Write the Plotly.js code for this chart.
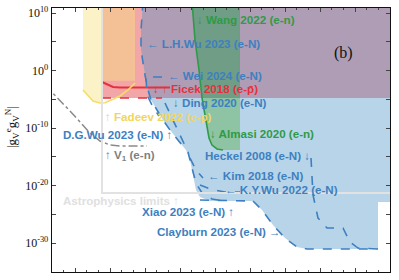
<!DOCTYPE html>
<html><head><meta charset="utf-8">
<script src="https://cdn.plot.ly/plotly-3.0.1.min.js"></script>
<style>html,body{margin:0;padding:0;background:#fff;}#chart{width:399px;height:280px;}</style>
</head><body><div id="chart"></div>
<script>
// x: log10 of force range (arbitrary decade units), y: log10 |g g|
const TOP = 12, RIGHT = 9.3;
const pinkX = [0.771, 0.771, RIGHT, RIGHT];
const pinkL = [TOP, -4.78, -4.78, TOP];
const blueX = [1.943, 1.886, 1.886, 1.943, 2.0, 2.086, 2.171, 2.343, 2.514, 2.714, 2.943, 3.171, 3.286, 3.343, 3.4, 3.457, 3.571, 3.857, 5.086, 5.343, 5.657, 6.0, 6.343, 6.629, 8.657, 8.657, RIGHT, RIGHT];
const blueL = [TOP, 7.04, 3.57, 0.96, -0.78, -3.39, -5.13, -6.87, -8.61, -10.35, -12.09, -13.83, -15.57, -17.30, -19.04, -20.78, -22.0, -22.70, -22.70, -24.27, -26.87, -29.13, -30.7, -31.04, -31.04, -22.87, -22.87, TOP];
const purpleX = [1.943, 1.886, 1.886, 1.943, 2.0, 2.086, 2.14, RIGHT, RIGHT];
const purpleL = [TOP, 7.04, 3.57, 0.96, -0.78, -3.39, -4.78, -4.78, TOP];
const yellowX = [0.229, 0.229, 0.371, 0.514, 0.714, 0.771, 0.771];
const yellowL = [TOP, -3.39, -4.43, -5.3, -5.65, -5.62, TOP];
const orangeX = [0.771, 0.771, 1.714, 1.714];
const orangeL = [TOP, -1.8, -1.8, TOP];
const greenUpX = [3.343, 3.429, 3.543, 3.629, 4.714, 4.714];
const greenUpL = [TOP, 5.30, 0.087, -4.78, -4.78, TOP];
const greenLoX = [3.629, 3.714, 3.771, 3.829, 3.914, 4.057, 4.229, 4.714, 4.714];
const greenLoL = [-4.78, -7.74, -10.0, -11.74, -12.96, -13.65, -13.83, -13.83, -4.78];
const wangX = [3.343, 3.429, 3.543, 3.629, 3.714, 3.771, 3.829, 3.914, 4.057, 4.229];
const wangL = [TOP, 5.30, 0.087, -4.78, -7.74, -10.0, -11.74, -12.96, -13.65, -13.83];
const ficekSolidX = [0.771, 0.886, 1.086, 1.286, 2.714];
const ficekSolidL = [-2.0, -2.35, -2.87, -2.96, -2.96];
const ficekDashX = [0.771, 2.486];
const ficekDashL = [-4.78, -4.78];
const fadeevX = [0.229, 0.371, 0.514, 0.714, 0.857, 1.086, 1.286, 1.514, 1.714];
const fadeevL = [-3.39, -4.43, -5.3, -5.65, -5.6, -5.0, -4.43, -3.39, -2.17];
const lhwuX = [1.943, 1.886, 1.886, 1.943, 2.0, 2.086, 2.171, 2.343, 2.514, 2.714, 2.943, 3.171];
const lhwuL = [TOP, 7.04, 3.57, 0.96, -0.78, -3.39, -5.13, -6.87, -8.61, -10.35, -12.09, -13.83];
const weiX = [2.486, 2.029, 2.057, 2.229, 2.4];
const weiL = [-1.13, -1.13, -4.26, -6.35, -7.9];
const dgwuX = [2.571, 2.771, 3.0, 3.229, 3.343, 3.457, 3.629, 3.914, 4.286];
const dgwuL = [-5.65, -8.26, -11.22, -14.17, -16.96, -19.57, -21.30, -22.35, -22.70];
const kimX = [3.286, 3.457, 3.657];
const kimL = [-15.22, -17.30, -18.70];
const kywuX = [3.571, 3.857, 4.286, 4.714];
const kywuL = [-19.91, -20.61, -21.13, -21.13];
const xiaoX = [3.571, 5.086];
const xiaoL = [-22.52, -22.70];
const claybX = [5.086, 5.343, 5.657, 6.0, 6.343, 6.629, 8.657];
const claybL = [-22.70, -24.27, -26.87, -29.13, -30.7, -31.04, -31.04];
const heckelX = [6.743, 6.8, 6.943, 7.2, 7.657, 7.857, 8.086, 8.657];
const heckelL = [-15.22, -21.65, -25.65, -27.39, -27.39, -29.83, -30.87, -31.04];
const v1X = [-0.857, -0.143, 0.429, 0.714, 1.0, 1.286, 2.057];
const v1L = [-2.52, -7.04, -10.87, -12.26, -12.96, -13.13, -13.13];
const astroX = [0.771, 0.771, RIGHT];
const astroL = [TOP, -21.30, -21.30];
const yTickExp = [10, 5, 0, -5, -10, -15, -20, -25, -30, -35];
const yTickText = ['10<sup>10</sup>', '', '10<sup>0</sup>', '', '10<sup>-10</sup>', '', '10<sup>-20</sup>', '', '10<sup>-30</sup>', ''];

const P = v => v.map(e => Math.pow(10, e));
const BLUE = '#3d80c1';
function fillTrace(x, l, color) {
  return {x: x, y: P(l), mode: 'lines', fill: 'toself', fillcolor: color, line: {width: 0}, hoverinfo: 'skip'};
}
function lineTrace(x, l, color, dash, w) {
  return {x: x, y: P(l), mode: 'lines', line: {color: color, dash: dash, width: w || 1.6}, hoverinfo: 'skip'};
}
const traces = [
  fillTrace(pinkX, pinkL, '#f2a6a7'),
  fillTrace(blueX, blueL, '#b8d4e8'),
  fillTrace(purpleX, purpleL, '#ae9db4'),
  fillTrace(yellowX, yellowL, '#fbf3c7'),
  fillTrace(orangeX, orangeL, '#f4c196'),
  fillTrace(greenUpX, greenUpL, '#6f9d86'),
  fillTrace(greenLoX, greenLoL, '#8ec3a3'),
  lineTrace(wangX, wangL, '#2f9a47', 'solid', 1.6),
  lineTrace(ficekSolidX, ficekSolidL, '#e8303c', 'solid', 2),
  lineTrace(ficekDashX, ficekDashL, '#e8303c', 'dash', 1.6),
  lineTrace(fadeevX, fadeevL, '#f5de68', 'solid', 1.6),
  lineTrace(lhwuX, lhwuL, BLUE, 'dash'),
  lineTrace(weiX, weiL, BLUE, 'dash'),
  lineTrace(dgwuX, dgwuL, BLUE, 'dash'),
  lineTrace(kimX, kimL, BLUE, 'dash'),
  lineTrace(kywuX, kywuL, BLUE, 'dash'),
  lineTrace(xiaoX, xiaoL, BLUE, 'dash'),
  lineTrace(claybX, claybL, BLUE, 'dash'),
  lineTrace(heckelX, heckelL, BLUE, 'dash'),
  lineTrace(v1X, v1L, '#8a8a8a', 'dashdot', 1.5),
  lineTrace(astroX, astroL, '#e2e2e2', 'solid', 2)
];

const F = 'Liberation Sans, Arial, sans-serif';
function lab(text, px, py, color, size) {
  return {text: text, xref: 'paper', yref: 'paper', x: (px - 52) / 338, y: (272 - py) / 264,
    xanchor: 'left', yanchor: 'middle', showarrow: false, borderpad: 0,
    font: {family: F, size: size || 11.6, color: color, weight: 'bold'}};
}
const annotations = [
  lab('↓ Wang 2022 (e-n)', 196, 20, '#2f9a47'),
  lab('← L.H.Wu 2023 (e-N)', 146, 43, BLUE),
  lab('← Wei 2024 (e-N)', 167, 75, BLUE),
  lab('↓ ↑ Ficek 2018 (e-p̄)', 152, 89, '#e8303c'),
  lab('↓ Ding 2020 (e-N)', 172, 102, BLUE),
  lab('↑ Fadeev 2022 (e-p)', 104, 117, '#f2d65a'),
  lab('D.G.Wu 2023 (e-N) ↑', 62, 134, BLUE),
  lab('↓ Almasi 2020 (e-n)', 209, 133, '#2f9a47'),
  lab('↑ V<sub>1</sub> (e-n)', 104, 155, '#808080'),
  lab('Heckel 2008 (e-N) ↓', 204, 155, BLUE),
  lab('← Kim 2018 (e-N)', 207, 175, BLUE),
  lab('← K.Y.Wu 2022 (e-N)', 224, 189, BLUE),
  lab('Astrophysics limits ↑', 62, 200, '#e0e0e0'),
  lab('Xiao 2023 (e-N) ↑', 141, 211, BLUE),
  lab('Clayburn 2023 (e-N) →', 156, 231, BLUE),
  {text: '(b)', xref: 'paper', yref: 'paper', x: (343 - 52) / 338, y: (272 - 53) / 264,
   xanchor: 'center', yanchor: 'middle', showarrow: false,
   font: {family: 'Liberation Serif, Times New Roman, serif', size: 16, color: '#111'}},
  {text: '|g<sub>V</sub><sup>e</sup>g<sub>V</sub><sup>N</sup>|', xref: 'paper', yref: 'paper',
   x: (12 - 52) / 338, y: (272 - 127) / 264, textangle: -90, xanchor: 'center', yanchor: 'middle',
   showarrow: false, font: {family: 'Liberation Serif, Times New Roman, serif', size: 13, color: '#111'}}
];

const layout = {
  width: 399, height: 280,
  margin: {l: 52, r: 9, t: 8, b: 8},
  paper_bgcolor: '#fff', plot_bgcolor: '#fff',
  showlegend: false,
  xaxis: {range: [-0.657, 9.0], showticklabels: false, ticks: 'inside', ticklen: 4, tickwidth: 1,
    dtick: 1, tick0: 0, showgrid: false, zeroline: false, showline: true, linecolor: '#111', linewidth: 1.3,
    mirror: 'ticks', minor: {ticks: 'inside', ticklen: 2, dtick: 1/3, tick0: 0, showgrid: false}},
  yaxis: {type: 'log', range: [-35.04, 10.87], tickvals: P(yTickExp), ticktext: yTickText,
    ticks: 'inside', ticklen: 4, tickwidth: 1, showgrid: false, zeroline: false, showline: true,
    linecolor: '#111', linewidth: 1.3, mirror: 'ticks',
    tickfont: {family: 'Liberation Serif, Times New Roman, serif', size: 12, color: '#111'}},
  annotations: annotations
};
Plotly.newPlot('chart', traces, layout, {staticPlot: true, displayModeBar: false});
</script>
</body></html>
